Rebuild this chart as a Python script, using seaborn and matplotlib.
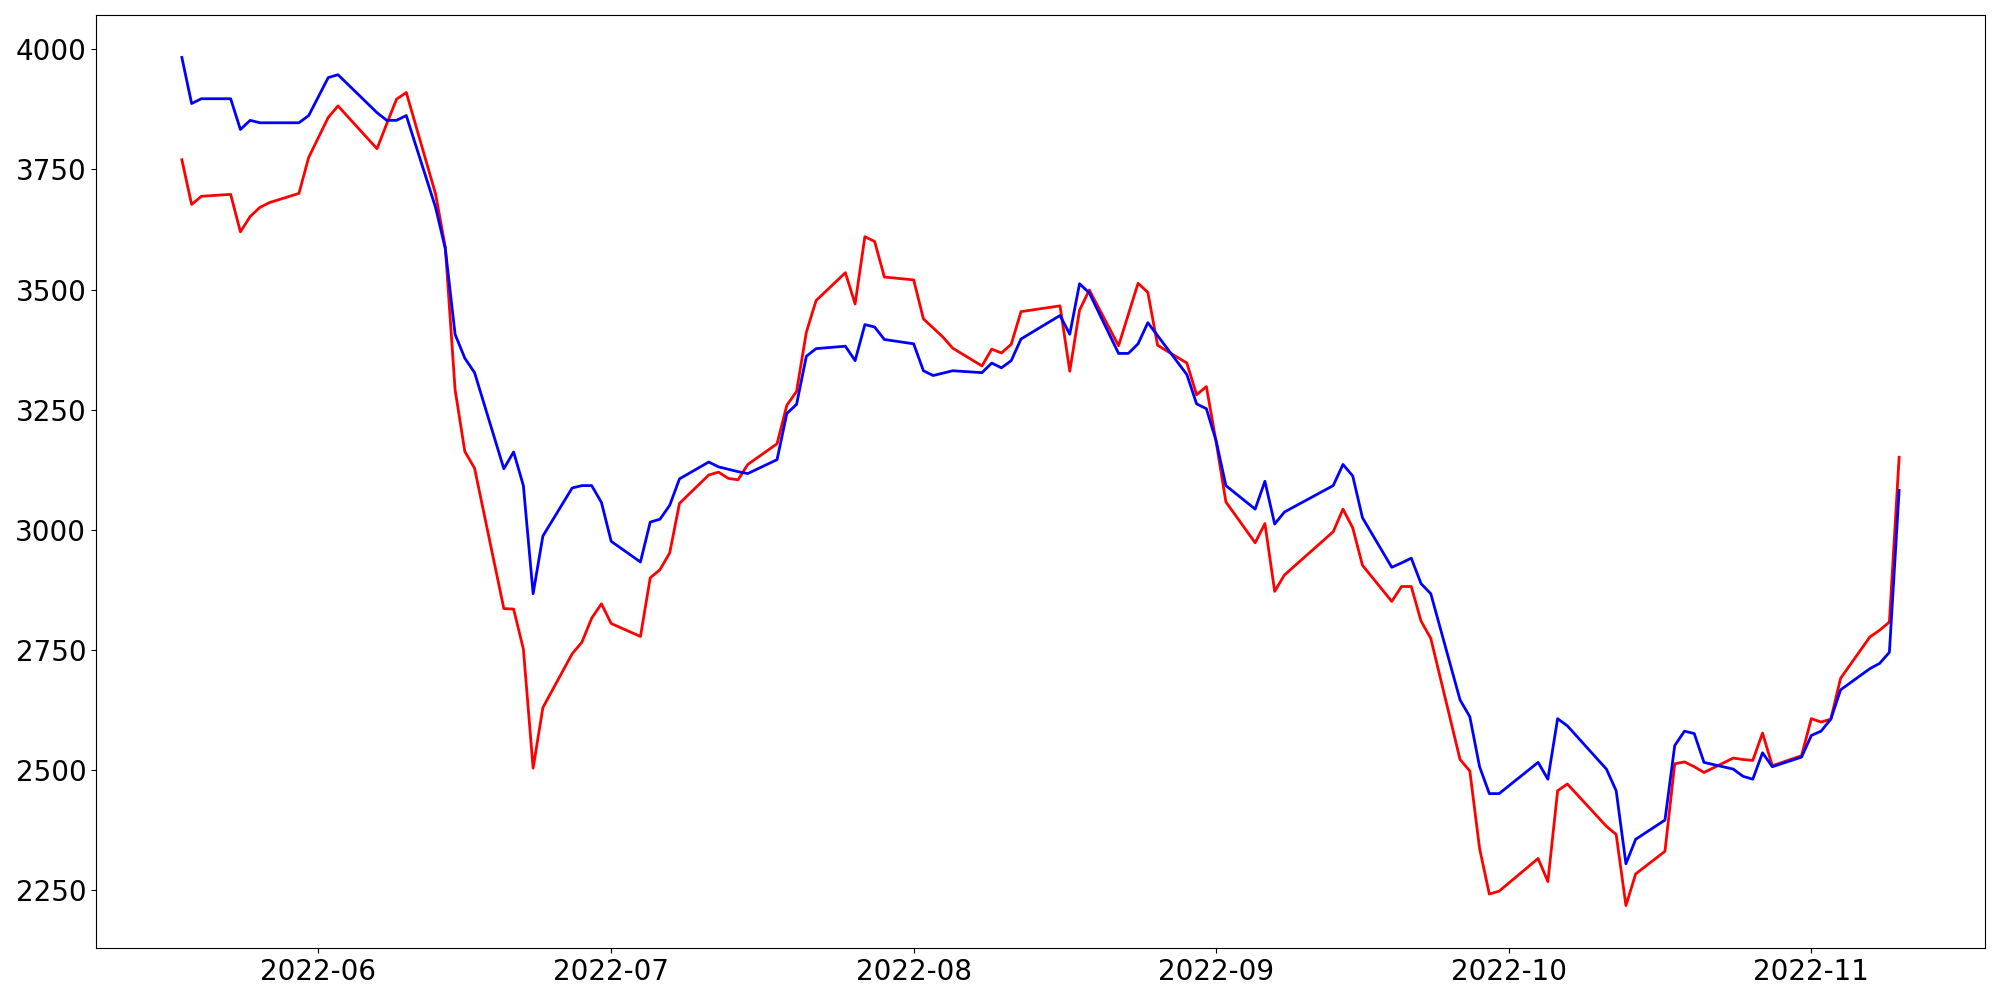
import pandas as pd
import numpy as np
import matplotlib
matplotlib.use("Agg")
import matplotlib.pyplot as plt
import seaborn as sns

# trading days (weekdays minus local holidays)
holidays = ["2022-06-01", "2022-06-06", "2022-08-15", "2022-09-09",
            "2022-09-12", "2022-10-03", "2022-10-10"]
dates = pd.bdate_range("2022-05-18", "2022-11-10", freq="C", holidays=holidays)

red_values = [
    3770, 3677, 3694, 3698, 3620, 3652, 3671, 3681, 3700, 3775,               # May
    3858, 3882, 3793, 3845, 3896, 3910, 3699, 3588, 3292, 3163, 3128,
    2836, 2835, 2752, 2504, 2630, 2742, 2766, 2816, 2846,                     # Jun
    2805, 2778, 2900, 2917, 2952, 3055, 3114, 3120, 3107, 3104, 3136,
    3179, 3259, 3288, 3411, 3477, 3535, 3470, 3610, 3600, 3526,               # Jul
    3520, 3439, 3420, 3401, 3378, 3341, 3376, 3368, 3386, 3454, 3466,
    3330, 3457, 3499, 3383, 3448, 3513, 3494, 3384, 3347, 3281, 3298,         # Aug
    3183, 3058, 2973, 3013, 2872, 2906, 2996, 3043, 3004, 2926,
    2851, 2882, 2882, 2810, 2774, 2522, 2498, 2337, 2242, 2248,               # Sep
    2316, 2268, 2457, 2471, 2383, 2366, 2218, 2284, 2331, 2513,
    2517, 2507, 2495, 2525, 2522, 2520, 2577, 2509, 2530,                     # Oct
    2607, 2600, 2606, 2691, 2777, 2791, 2808, 3151,                           # Nov
]

blue_values = [
    3983, 3887, 3897, 3897, 3833, 3852, 3847, 3847, 3847, 3862,               # May
    3941, 3947, 3868, 3852, 3852, 3862, 3671, 3585, 3407, 3357, 3327,
    3127, 3162, 3092, 2867, 2987, 3087, 3092, 3092, 3057,                     # Jun
    2976, 2933, 3016, 3022, 3051, 3106, 3141, 3131, 3126, 3121, 3117,
    3146, 3242, 3261, 3361, 3377, 3382, 3352, 3427, 3422, 3396,               # Jul
    3387, 3331, 3321, 3326, 3331, 3327, 3347, 3337, 3352, 3397, 3446,
    3407, 3512, 3493, 3367, 3367, 3387, 3431, 3404, 3323, 3262, 3252,         # Aug
    3185, 3092, 3043, 3101, 3012, 3037, 3092, 3136, 3112, 3025,
    2922, 2931, 2941, 2888, 2867, 2646, 2611, 2507, 2451, 2451,               # Sep
    2516, 2481, 2607, 2592, 2502, 2457, 2305, 2356, 2396, 2551,
    2581, 2576, 2516, 2502, 2487, 2481, 2536, 2507, 2527,                     # Oct
    2572, 2581, 2606, 2667, 2711, 2722, 2745, 3082,                           # Nov
]

df = pd.DataFrame({"date": dates, "red": red_values, "blue": blue_values})

fig, ax = plt.subplots(figsize=(20, 10), dpi=100)
sns.lineplot(data=df, x="date", y="red", color="red", linewidth=2, ax=ax)
sns.lineplot(data=df, x="date", y="blue", color="blue", linewidth=2, ax=ax)

ax.set_xlabel("")
ax.set_ylabel("")
ax.tick_params(axis="both", labelsize=20)

plt.subplots_adjust(left=0.048, right=0.9925, top=0.985, bottom=0.052)
fig.savefig("out.png")
